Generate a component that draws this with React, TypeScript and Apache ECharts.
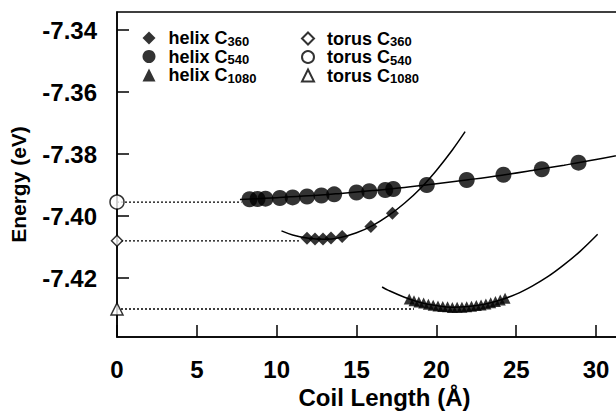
import React, { useEffect, useRef } from "react";
import * as echarts from "echarts";

// ---- data ----
const xTicks = [0, 5, 10, 15, 20, 25, 30];
const yTicks = [-7.42, -7.4, -7.38, -7.36, -7.34];

const helix360: [number, number][] = [
  [11.9, -7.4072], [12.4, -7.4074], [12.9, -7.4074], [13.4, -7.4071],
  [14.1, -7.4066], [15.9, -7.4034], [17.25, -7.3991],
];
const helix540: [number, number][] = [
  [8.3, -7.3946], [8.8, -7.3945], [9.3, -7.3944], [10.2, -7.3942],
  [11.0, -7.394], [11.9, -7.3937], [12.8, -7.3934], [13.6, -7.393],
  [15.0, -7.3924], [15.8, -7.392], [16.8, -7.3916], [17.3, -7.3913],
  [19.4, -7.39], [21.9, -7.3884], [24.2, -7.3867], [26.6, -7.3849],
  [28.9, -7.3828],
];
const helix1080: [number, number][] = [
  [18.3, -7.4268], [18.6, -7.4273], [18.9, -7.4277], [19.2, -7.4281],
  [19.5, -7.4285], [19.8, -7.4288], [20.1, -7.429], [20.4, -7.4292],
  [20.7, -7.4293], [21.0, -7.4295], [21.3, -7.4294], [21.6, -7.4294],
  [21.9, -7.4293], [22.2, -7.4291], [22.5, -7.4289], [22.8, -7.4287],
  [23.1, -7.4284], [23.4, -7.428], [23.7, -7.4276], [24.0, -7.4271],
  [24.3, -7.4265],
];

const curve360: [number, number][] = [
  [10.3, -7.4048], [11, -7.4061], [12, -7.4072], [13, -7.4075], [14, -7.4069],
  [15, -7.4054], [16, -7.4031], [17, -7.3999], [18, -7.3959], [19, -7.3911],
  [20, -7.3853], [21, -7.3787], [21.8, -7.3728],
];
const curve540: [number, number][] = [
  [7.7, -7.3947], [10, -7.3941], [12, -7.3935], [14, -7.3927], [16, -7.3918],
  [18, -7.3908], [20, -7.3896], [22, -7.3883], [24, -7.3869], [26, -7.3853],
  [28, -7.3836], [30, -7.3818], [32, -7.3798],
];
const curve1080: [number, number][] = [
  [16.6, -7.4229], [17, -7.424], [18, -7.4262], [19, -7.4279], [20, -7.4289],
  [21, -7.4294], [22, -7.4292], [23, -7.4285], [24, -7.4271], [25, -7.4252],
  [26, -7.4226], [27, -7.4195], [28, -7.4157], [29, -7.4114], [30.1, -7.4059],
];

const torus360 = -7.408;
const torus540 = -7.3955;
const torus1080 = -7.43;
const torusLineEnd360 = 11.5;
const torusLineEnd540 = 7.8;
const torusLineEnd1080 = 18.6;

const FONT = "'Liberation Sans', Arial, Helvetica, sans-serif";

export default function App() {
  const ref = useRef<HTMLDivElement>(null);
  useEffect(() => {
    document.body.style.margin = "0";
    const chart = echarts.init(ref.current!, null, { renderer: "svg" });
    const hollow = { color: "#fff", borderColor: "#000", borderWidth: 1.5 };
    const solid = { color: "#000" };
    const curveStyle = { color: "#000", width: 1.5 };
    const dotted = { color: "#000", width: 1.3, type: [2, 2] as any };
    const legendText = {
      fontFamily: FONT,
      fontWeight: "bold" as const,
      fontSize: 18,
      color: "#000",
      padding: [0, 0, 0, 8],
      rich: {
        m: { fontFamily: FONT, fontWeight: "bold", fontSize: 18, lineHeight: 19, verticalAlign: "middle" },
        s: { fontFamily: FONT, fontWeight: "bold", fontSize: 13, lineHeight: 13, verticalAlign: "bottom" },
      },
    };
    const fmt = (name: string) => {
      const m = name.match(/^(.*C)(\d+)$/);
      return m ? `{m|${m[1]}}{s|${m[2]}}` : name;
    };
    chart.setOption({
      animation: false,
      backgroundColor: "#fff",
      grid: {
        left: 117, top: 12, width: 511, height: 325,
        show: true, borderColor: "#000", borderWidth: 1.5,
        containLabel: false, outerBoundsMode: "none",
      },
      legend: [
        {
          orient: "vertical", left: 142.5, top: 29, padding: 0, itemWidth: 13, itemHeight: 13,
          itemGap: 0, selectedMode: false, textStyle: legendText, formatter: fmt,
          data: [
            { name: "helix C360", icon: "diamond" },
            { name: "helix C540", icon: "circle" },
            { name: "helix C1080", icon: "triangle" },
          ],
        },
        {
          orient: "vertical", left: 301, top: 29.5, padding: 0, itemWidth: 12, itemHeight: 12,
          itemGap: 0, selectedMode: false, textStyle: legendText, formatter: fmt,
          data: [
            { name: "torus C360", icon: "diamond" },
            { name: "torus C540", icon: "circle" },
            { name: "torus C1080", icon: "triangle" },
          ],
        },
      ],
      xAxis: {
        type: "value", min: 0, max: 32, interval: 5,
        name: "Coil Length (Å)", nameLocation: "middle", nameGap: 46,
        nameTextStyle: { fontFamily: FONT, fontWeight: "bold", fontSize: 24, color: "#000", padding: [0, 0, 0, 24] },
        axisLine: { lineStyle: { color: "#000", width: 1.5 } },
        axisTick: { inside: true, length: 12, lineStyle: { color: "#000", width: 1.5 }, customValues: xTicks },
        axisLabel: {
          margin: 20, fontFamily: FONT, fontWeight: "bold", fontSize: 24, color: "#000",
          customValues: xTicks,
        },
        splitLine: { show: false },
      },
      yAxis: {
        type: "value", min: -7.43903, max: -7.33419,
        name: "Energy (eV)", nameLocation: "middle", nameGap: 88, nameRotate: 90,
        nameTextStyle: { fontFamily: FONT, fontWeight: "bold", fontSize: 21, color: "#000", padding: [0, 20, 0, 0] },
        axisLine: { lineStyle: { color: "#000", width: 1.5 } },
        axisTick: { inside: true, length: 12, lineStyle: { color: "#000", width: 1.5 }, customValues: yTicks },
        axisLabel: {
          margin: 20, fontFamily: FONT, fontWeight: "bold", fontSize: 24, color: "#000",
          customValues: yTicks, formatter: (v: number) => v.toFixed(2),
        },
        splitLine: { show: false },
      },
      series: [
        { type: "line", data: [[0, torus540], [torusLineEnd540, torus540]], symbol: "none", lineStyle: dotted, silent: true },
        { type: "line", data: [[0, torus360], [torusLineEnd360, torus360]], symbol: "none", lineStyle: dotted, silent: true },
        { type: "line", data: [[0, torus1080], [torusLineEnd1080, torus1080]], symbol: "none", lineStyle: dotted, silent: true },
        { type: "line", data: curve540, symbol: "none", smooth: 0.4, lineStyle: curveStyle, silent: true },
        { type: "line", data: curve360, symbol: "none", smooth: 0.4, lineStyle: curveStyle, silent: true },
        { type: "line", data: curve1080, symbol: "none", smooth: 0.4, lineStyle: curveStyle, silent: true },
        { name: "helix C360", type: "scatter", data: helix360, symbol: "diamond", symbolSize: 13, itemStyle: solid, z: 5 },
        { name: "helix C540", type: "scatter", data: helix540, symbol: "circle", symbolSize: 16, itemStyle: solid, z: 5 },
        { name: "helix C1080", type: "scatter", data: helix1080, symbol: "triangle", symbolSize: 11, itemStyle: solid, z: 5 },
        { name: "torus C360", type: "scatter", data: [[0, torus360]], symbol: "diamond", symbolSize: 11, itemStyle: hollow, clip: false, z: 6 },
        { name: "torus C540", type: "scatter", data: [[0, torus540]], symbol: "circle", symbolSize: 14, itemStyle: hollow, clip: false, z: 6 },
        { name: "torus C1080", type: "scatter", data: [[0, torus1080]], symbol: "triangle", symbolSize: 12, itemStyle: hollow, clip: false, z: 6 },
      ],
    });
    return () => chart.dispose();
  }, []);
  return <div ref={ref} style={{ width: 616, height: 411 }} />;
}
